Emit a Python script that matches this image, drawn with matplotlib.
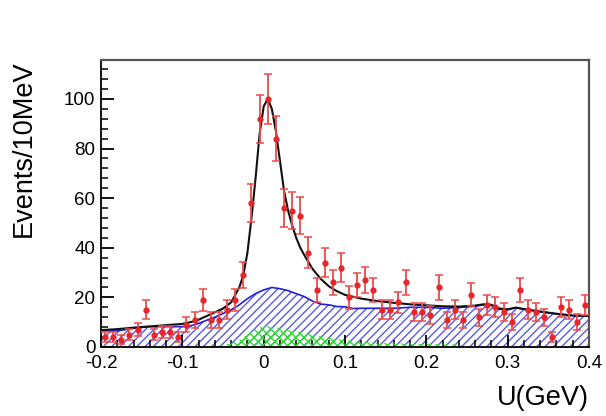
import numpy as np
import matplotlib
matplotlib.use("Agg")
import matplotlib.pyplot as plt
from matplotlib.ticker import MultipleLocator
from matplotlib.transforms import ScaledTranslation

plt.rcParams['font.family'] = ['Liberation Sans', 'DejaVu Sans']
plt.rcParams['hatch.linewidth'] = 1.0

# Data points (bin centres, 10 MeV bins)
bin_centers = [-0.195, -0.185, -0.175, -0.165, -0.155, -0.145, -0.135, -0.125, -0.115, -0.105,
               -0.095, -0.085, -0.075, -0.065, -0.055, -0.045, -0.035, -0.025, -0.015, -0.005,
               0.005, 0.015, 0.025, 0.035, 0.045, 0.055, 0.065, 0.075, 0.085, 0.095,
               0.105, 0.115, 0.125, 0.135, 0.145, 0.155, 0.165, 0.175, 0.185, 0.195,
               0.205, 0.215, 0.225, 0.235, 0.245, 0.255, 0.265, 0.275, 0.285, 0.295,
               0.305, 0.315, 0.325, 0.335, 0.345, 0.355, 0.365, 0.375, 0.385, 0.395]
counts = [4, 4, 3, 5, 7, 15, 5, 6, 6, 4,
          9, 11, 19, 11, 11, 15, 19, 29, 58, 92,
          100, 84, 56, 55, 53, 38, 23, 34, 26, 32,
          20, 25, 27, 23, 15, 15, 18, 26, 14, 14,
          13, 24, 11, 15, 11, 21, 12, 17, 16, 14,
          10, 23, 15, 14, 12, 4, 16, 15, 10, 17]
errors = [2.0, 2.0, 1.7, 2.2, 2.6, 3.9, 2.2, 2.4, 2.4, 2.0,
          3.0, 3.3, 4.4, 3.3, 3.3, 3.9, 4.4, 5.4, 7.6, 9.6,
          10.0, 9.2, 7.5, 7.4, 7.3, 6.2, 4.8, 5.8, 5.1, 5.7,
          4.5, 5.0, 5.2, 4.8, 3.9, 3.9, 4.2, 5.1, 3.7, 3.7,
          3.6, 4.9, 3.3, 3.9, 3.3, 4.6, 3.5, 4.1, 4.0, 3.7,
          3.2, 4.8, 3.9, 3.7, 3.5, 2.0, 4.0, 3.9, 3.2, 4.1]

# Total fit curve
fit_x = [-0.2, -0.18, -0.16, -0.14, -0.12, -0.1, -0.09, -0.08, -0.07, -0.06, -0.05, -0.04,
         -0.03, -0.025, -0.02, -0.015, -0.01, -0.005, 0.0, 0.005, 0.01, 0.015, 0.02, 0.025,
         0.03, 0.035, 0.04, 0.045, 0.05, 0.06, 0.07, 0.08, 0.09, 0.1, 0.12, 0.14, 0.16,
         0.18, 0.2, 0.22, 0.24, 0.26, 0.27, 0.28, 0.29, 0.3, 0.31, 0.32, 0.34, 0.36, 0.38, 0.4]
fit_y = [6.8, 7.2, 7.8, 8.3, 8.8, 9.3, 10.0, 11.0, 12.5, 14.0, 15.5, 18.0,
         24.0, 29.0, 38.0, 52.0, 68.0, 86.0, 97.0, 100.0, 96.0, 87.0, 75.0, 63.0,
         55.0, 49.0, 44.0, 40.0, 37.0, 31.5, 27.5, 24.5, 22.5, 21.0, 19.5, 18.5, 17.8,
         17.2, 16.8, 16.4, 16.3, 16.7, 17.2, 17.0, 15.5, 15.2, 15.9, 15.3, 14.3, 13.4, 12.7, 12.5]

# Background (blue hatched)
bkg_x = [-0.2, -0.18, -0.16, -0.14, -0.12, -0.1, -0.09, -0.08, -0.07, -0.06, -0.05, -0.04,
         -0.03, -0.02, -0.01, 0.0, 0.01, 0.02, 0.03, 0.04, 0.05, 0.06, 0.07, 0.08, 0.09,
         0.1, 0.11, 0.12, 0.14, 0.16, 0.18, 0.2, 0.22, 0.24, 0.26, 0.27, 0.28, 0.29, 0.3,
         0.31, 0.32, 0.34, 0.36, 0.38, 0.4]
bkg_y = [6.5, 6.5, 7.5, 8.2, 8.2, 8.2, 8.5, 9.5, 10.8, 12.0, 13.5, 15.0,
         17.0, 19.5, 21.5, 23.0, 24.0, 23.5, 22.7, 21.5, 20.3, 18.5, 17.3, 17.0, 16.3,
         16.2, 15.5, 15.6, 15.6, 15.6, 16.0, 16.0, 15.6, 15.9, 16.4, 17.0, 16.8, 15.2, 15.0,
         15.8, 15.2, 14.2, 13.3, 12.6, 12.5]

# Peaking background (green cross-hatched)
peak_x = [-0.08, -0.06, -0.04, -0.03, -0.02, -0.01, 0.0, 0.01, 0.02, 0.03, 0.05, 0.07,
          0.09, 0.11, 0.13, 0.15, 0.2, 0.24, 0.25]
peak_y = [0.0, 0.5, 1.5, 2.8, 5.0, 7.3, 8.3, 8.3, 7.5, 6.8, 5.6, 4.3,
          3.3, 2.4, 1.9, 1.6, 1.2, 1.0, 0.0]

fig = plt.figure(figsize=(6.06, 4.16), dpi=100)
ax = fig.add_axes([0.1667, 0.1659, 0.8053, 0.6899])

ax.fill_between(bkg_x, 0, bkg_y, facecolor='white', edgecolor='#5a5ae6',
                hatch='////', linewidth=0, zorder=1)
ax.fill_between(peak_x, 0, peak_y, facecolor='none', edgecolor='#2ed82e',
                hatch='xxxx', linewidth=0, zorder=2)
ax.plot(bkg_x, bkg_y, color='#1f1fe0', lw=1.2, zorder=3)
ax.plot(fit_x, fit_y, color='#111111', lw=1.5, zorder=4)

ax.errorbar(bin_centers, counts, yerr=errors, fmt='o', color='#e5262b',
            ecolor='#ee4a4a', elinewidth=1.3, capsize=2.8, capthick=1.1,
            markersize=3.5, zorder=5)

ax.set_xlim(-0.2, 0.4)
ax.set_ylim(0, 115.7)

ax.xaxis.set_major_locator(MultipleLocator(0.1))
ax.xaxis.set_minor_locator(MultipleLocator(0.02))
ax.yaxis.set_major_locator(MultipleLocator(20))
ax.yaxis.set_minor_locator(MultipleLocator(4))
ax.set_xticks([-0.2, -0.1, 0, 0.1, 0.2, 0.3, 0.4])
ax.set_xticklabels(['-0.2', '-0.1', '0', '0.1', '0.2', '0.3', '0.4'])

ax.tick_params(axis='both', which='both', direction='in', top=False, right=False,
               labelsize=13.5, color='black')
ax.tick_params(axis='both', which='major', length=9, width=1.3)
ax.tick_params(axis='both', which='minor', length=5, width=1.1)
ax.tick_params(axis='x', which='major', pad=6)
ax.tick_params(axis='y', which='major', pad=4)

# nudge the y-axis "0" label up slightly so it does not collide with "-0.2"
fig.canvas.draw()
zero_lbl = ax.yaxis.get_majorticklabels()[0]
zero_lbl.set_transform(zero_lbl.get_transform() + ScaledTranslation(0, 2 / 72, fig.dpi_scale_trans))

for s in ['left', 'bottom']:
    ax.spines[s].set_color('black')
    ax.spines[s].set_linewidth(1.3)
for s in ['top', 'right']:
    ax.spines[s].set_color('#555555')
    ax.spines[s].set_linewidth(1.6)

ax.set_xlabel('U(GeV)', fontsize=19.5, loc='right', labelpad=9)
ax.set_ylabel('Events/10MeV', fontsize=19.5, loc='top', labelpad=20)

fig.savefig('out.png', dpi=100)
